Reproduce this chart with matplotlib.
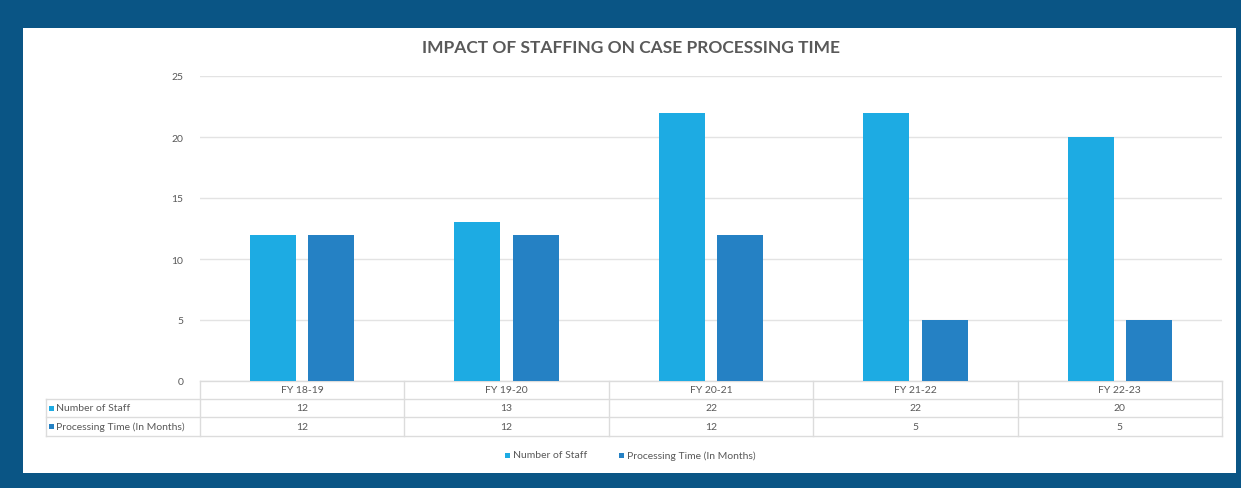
import matplotlib
matplotlib.use("Agg")
import matplotlib.pyplot as plt
from matplotlib.patches import Rectangle
import numpy as np

categories = ["FY 18-19", "FY 19-20", "FY 20-21", "FY 21-22", "FY 22-23"]
series_names = ["Number of Staff", "Processing Time (In Months)"]
staff = [12, 13, 22, 22, 20]
processing = [12, 12, 12, 5, 5]
yticks = [0, 5, 10, 15, 20, 25]

W, H = 1241, 489
c_light = "#1dabe3"
c_dark = "#2581c4"
frame = "#0a5585"
txt = "#595959"
grid = "#e3e3e3"
plt.rcParams['font.family'] = ['Lato', 'DejaVu Sans']

fig = plt.figure(figsize=(W/100, H/100), dpi=100)
fig.patch.set_facecolor(frame)
bg = fig.add_axes([23/W, 1-474/H, (1236-23)/W, (474-29)/H], zorder=-5)
bg.set_facecolor("white")
bg.set_xticks([]); bg.set_yticks([])
for s in bg.spines.values():
    s.set_visible(False)

x0, x1, ytop, ybot = 200, 1222, 77, 382
ax = fig.add_axes([x0/W, 1-ybot/H, (x1-x0)/W, (ybot-ytop)/H], zorder=1)
ax.set_facecolor("none")
n = len(categories)
x = np.arange(n)
bw = 0.225
gap = 0.06
ax.bar(x - (bw+gap)/2, staff, bw, color=c_light, zorder=3)
ax.bar(x + (bw+gap)/2, processing, bw, color=c_dark, zorder=3)
ax.set_xlim(-0.5, n-0.5)
ax.set_ylim(0, 25)
ax.set_yticks(yticks)
ax.set_yticklabels([str(t) for t in yticks], fontsize=7.5, color=txt)
ax.tick_params(axis='y', length=0, pad=12)
ax.set_xticks([])
for t in yticks:
    ax.axhline(t, color=grid, lw=1, zorder=1)
for s in ax.spines.values():
    s.set_visible(False)

fig.text(631/W, 1-48/H, "IMPACT OF STAFFING ON CASE PROCESSING TIME",
         ha="center", va="center", fontsize=12.5, fontweight="bold", color=txt)

# data table
axh = ybot - ytop
def ay(py):
    return (ybot - py) / axh
def axx(px):
    return (px - x0) / (x1 - x0)
rows = [382, 400, 418, 437]
lc = "#dcdcdc"
kw = dict(transform=ax.transAxes, clip_on=False, color=lc, lw=1)
ax.plot([0, 1], [ay(382)]*2, **kw)
for r in rows[1:]:
    ax.plot([axx(46), 1], [ay(r)]*2, **kw)
ax.plot([axx(46)]*2, [ay(400), ay(437)], **kw)
for i in range(n+1):
    ax.plot([i/n]*2, [ay(382), ay(437)], **kw)
tk = dict(transform=ax.transAxes, ha="center", va="center", fontsize=7.5, color=txt, clip_on=False)
for i in range(n):
    cx = (i+0.5)/n
    ax.text(cx, ay(391), categories[i], **tk)
    ax.text(cx, ay(409), str(staff[i]), **tk)
    ax.text(cx, ay(427.5), str(processing[i]), **tk)
for yy, name, col in [(409, series_names[0], c_light), (427.5, series_names[1], c_dark)]:
    ax.add_patch(Rectangle((axx(49), ay(yy)-2.5/axh), 5/(x1-x0), 5/axh, transform=ax.transAxes,
                           facecolor=col, edgecolor="none", clip_on=False))
    ax.text(axx(56), ay(yy), name, transform=ax.transAxes, ha="left", va="center",
            fontsize=7.5, color=txt, clip_on=False)

# legend
for px, name, col in [(505, series_names[0], c_light), (619, series_names[1], c_dark)]:
    ax.add_patch(Rectangle((axx(px), ay(456)-2.5/axh), 5/(x1-x0), 5/axh, transform=ax.transAxes,
                           facecolor=col, edgecolor="none", clip_on=False))
    ax.text(axx(px+8), ay(456), name, transform=ax.transAxes, ha="left", va="center",
            fontsize=7.5, color=txt, clip_on=False)

fig.savefig("out.png", dpi=100, facecolor=frame)
